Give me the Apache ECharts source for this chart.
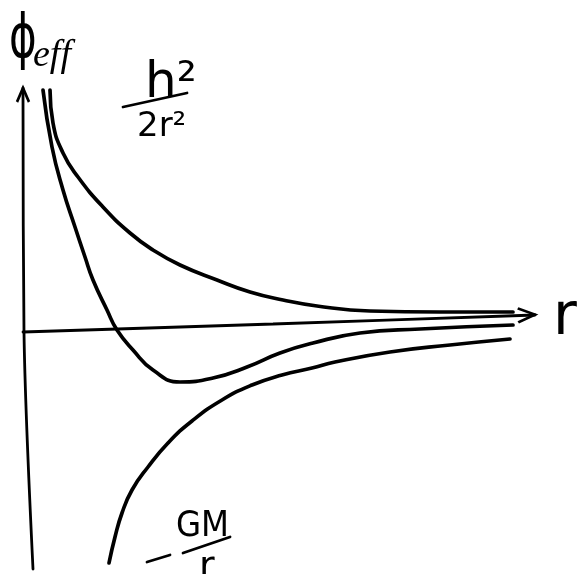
<!DOCTYPE html>
<html>
<head>
<meta charset="utf-8">
<script src="https://cdn.jsdelivr.net/npm/echarts@6/dist/echarts.min.js"></script>
<style>
  html, body { margin: 0; padding: 0; background: #fff; }
  #chart { width: 577px; height: 574px; }
</style>
</head>
<body>
<div id="chart"></div>
<script>
// Effective potential sketch: centrifugal term, gravitational term and their sum.
// r in arbitrary units along the horizontal, phi in arbitrary units upward.

// h^2 / 2r^2 (centrifugal barrier)
const centrifugalR   = [0.54, 0.60, 0.80, 1.10, 1.60, 2.14, 2.60, 3.14, 3.88, 4.54, 5.20, 5.88, 6.94, 8.34, 9.80];
const centrifugalPhi = [4.84, 4.18, 3.58, 3.10, 2.50, 1.98, 1.64, 1.34, 1.04, 0.80, 0.64, 0.52, 0.42, 0.40, 0.40];

// -GM / r (gravitational well)
const gravityR   = [1.72, 1.84, 1.98, 2.18, 2.50, 2.90, 3.38, 3.98, 4.58, 5.18, 5.78, 6.24, 7.34, 8.54, 9.74];
const gravityPhi = [-4.62, -4.10, -3.62, -3.16, -2.70, -2.22, -1.78, -1.36, -1.06, -0.86, -0.72, -0.60, -0.40, -0.26, -0.14];

// Phi_eff = h^2/2r^2 - GM/r
const effR   = [0.40, 0.58, 0.80, 1.04, 1.24, 1.40, 1.68, 1.88, 2.20, 2.60, 3.14, 3.80, 4.48, 5.14, 5.80, 6.74, 7.94, 9.80];
const effPhi = [4.84, 3.70, 2.84, 2.10, 1.50, 1.04, 0.44, 0.04, -0.36, -0.76, -1.00, -0.92, -0.70, -0.42, -0.22, -0.02, 0.06, 0.14];

// Hand-drawn axes (vertical one drawn from the bottom up, horizontal from left to right)
const phiAxisR   = [0.20, 0.02, 0.00];
const phiAxisPhi = [-4.74, 0.00, 4.88];
const rAxisR     = [0.00, 5.00, 10.24];
const rAxisPhi   = [0.00, 0.16, 0.34];

const INK = '#000';
const zip = (xs, ys) => xs.map((x, i) => [x, ys[i]]);

// Open chevron arrowheads placed on the last point of each axis
function withArrow(points, path, size, offset, rotate) {
  const out = points.map(p => ({ value: p, symbol: 'none' }));
  out[out.length - 1] = {
    value: points[points.length - 1],
    symbol: path,
    symbolSize: size,
    symbolOffset: offset,
    symbolRotate: rotate,
    symbolKeepAspect: false,
    itemStyle: { color: 'rgba(0,0,0,0)', borderColor: INK, borderWidth: 2.8 }
  };
  return out;
}

function curve(name, pts) {
  return {
    name: name, type: 'line', data: pts, smooth: 0.5, symbol: 'none',
    lineStyle: { color: INK, width: 3.7, cap: 'round', join: 'round' },
    silent: true, animation: false, z: 3
  };
}

const chart = echarts.init(document.getElementById('chart'), null, { renderer: 'canvas' });

chart.setOption({
  backgroundColor: '#fff',
  animation: false,
  grid: { left: 0, right: 0, top: 0, bottom: 0 },
  xAxis: { type: 'value', min: -0.46, max: 11.08, show: false },
  yAxis: { type: 'value', min: -4.84, max: 6.64, show: false },
  series: [
    {
      name: 'phi axis', type: 'line', smooth: 0.3, showSymbol: true,
      data: withArrow(zip(phiAxisR, phiAxisPhi), 'path://M0,10L5,0L10,10', [12, 14], [0, '50%'], 0),
      lineStyle: { color: INK, width: 2.8, cap: 'round' }, silent: true, z: 2
    },
    {
      name: 'r axis', type: 'line', smooth: 0.3, showSymbol: true,
      data: withArrow(zip(rAxisR, rAxisPhi), 'path://M0,0L10,5L0,10', [17, 14], ['-50%', 0], 2),
      lineStyle: { color: INK, width: 2.8, cap: 'round' }, silent: true, z: 2
    },
    curve('h2/2r2', zip(centrifugalR, centrifugalPhi)),
    curve('-GM/r', zip(gravityR, gravityPhi)),
    curve('phi_eff', zip(effR, effPhi))
  ],
  graphic: [
    // axis titles
    { type: 'text', x: 9, y: 11, scaleX: 0.7, style: { text: 'ϕ', font: '60px "DejaVu Sans"', fill: INK } },
    { type: 'text', x: 33, y: 37, style: { text: 'eff', font: 'italic 38px "Liberation Serif"', fill: INK } },
    { type: 'text', x: 553, y: 290, style: { text: 'r', font: '58px "DejaVu Sans"', fill: INK } },
    // h^2 / 2r^2
    { type: 'text', x: 145, y: 59, style: { text: 'h²', font: '50px "DejaVu Sans"', fill: INK } },
    { type: 'line', shape: { x1: 123, y1: 107, x2: 187, y2: 93 }, style: { stroke: INK, lineWidth: 2.8, lineCap: 'round' } },
    { type: 'text', x: 137, y: 110, style: { text: '2r²', font: '34px "DejaVu Sans"', fill: INK } },
    // -GM / r
    { type: 'line', shape: { x1: 147, y1: 562, x2: 170, y2: 555 }, style: { stroke: INK, lineWidth: 2.8, lineCap: 'round' } },
    { type: 'text', x: 176, y: 509, style: { text: 'GM', font: '36px "DejaVu Sans Condensed", "DejaVu Sans"', fill: INK } },
    { type: 'line', shape: { x1: 183, y1: 553, x2: 230, y2: 537 }, style: { stroke: INK, lineWidth: 2.8, lineCap: 'round' } },
    { type: 'text', x: 199, y: 549, style: { text: 'r', font: '38px "DejaVu Sans"', fill: INK } }
  ]
});
</script>
</body>
</html>
